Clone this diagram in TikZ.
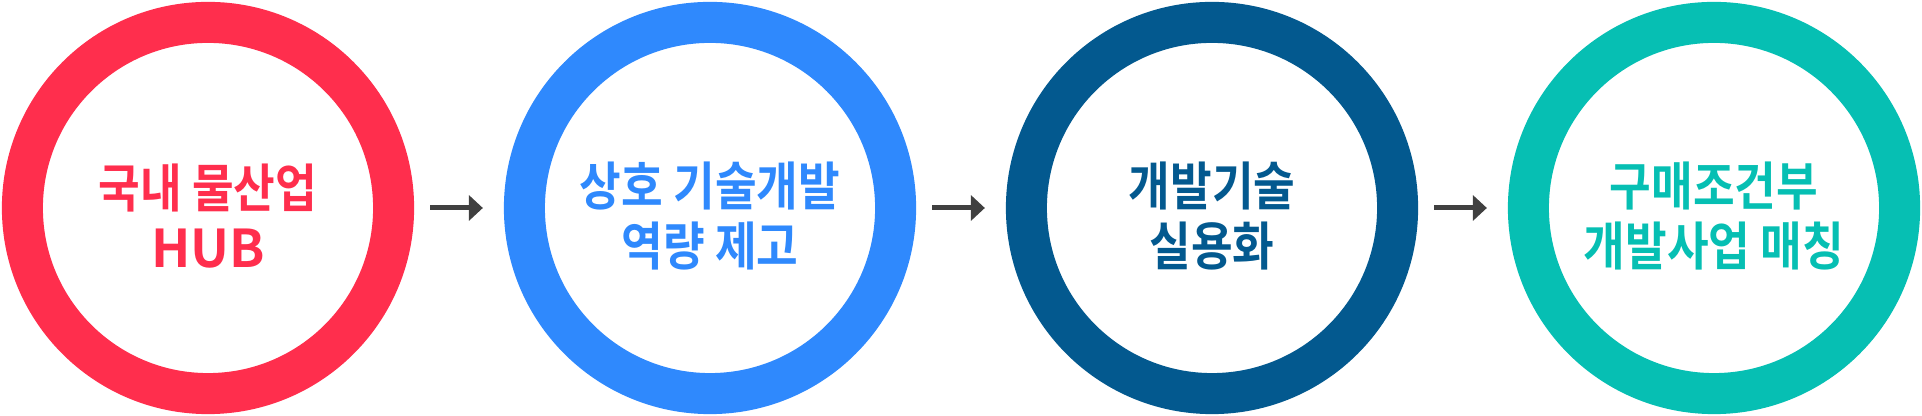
\documentclass[tikz,border=0pt]{standalone}
\usepackage{fontspec}
\setmainfont{Noto Sans CJK KR}[BoldFont={Noto Sans CJK KR Bold}]
\newfontfamily\hangul{Noto Sans CJK KR}[BoldFont={Noto Sans CJK KR Bold}, FakeStretch=0.87]
\usepackage{tikz}
\usetikzlibrary{arrows.meta}

\definecolor{hubred}{HTML}{FF2E4D}
\definecolor{devblue}{HTML}{2F89FD}
\definecolor{usenavy}{HTML}{03598F}
\definecolor{matchteal}{HTML}{06BFB3}
\definecolor{arrgray}{HTML}{404040}

\tikzset{
    ring/.style={circle, draw=#1, line width=0.41cm, minimum size=3.71cm, inner sep=0pt},
    ringtext/.style={text=#1, align=center, inner sep=0pt, yshift=-0.08cm,
        font=\hangul\bfseries\fontsize{14.8}{17}\selectfont},
    flow/.style={-{Triangle[length=0.14cm, width=0.25cm]}, line width=0.05cm, draw=arrgray,
        shorten <=0.16cm, shorten >=0.21cm}
}

\begin{document}
\begin{tikzpicture}[x=0.01cm, y=0.01cm]
    \useasboundingbox (0,0) rectangle (1922,416);

    % 단계 원
    \node[ring=hubred] (hub) at (208,208) {};
    \node[ring=devblue] (dev) at (710,208) {};
    \node[ring=usenavy] (use) at (1212,208) {};
    \node[ring=matchteal] (match) at (1714,208) {};

    % 원 안의 글
    \node[ringtext=hubred] (hubtext) at (hub) {국내 물산업\\{\rmfamily\bfseries HUB}};
    \node[ringtext=devblue] (devtext) at (dev) {상호 기술개발\\역량 제고};
    \node[ringtext=usenavy] (usetext) at (use) {개발기술\\실용화};
    \node[ringtext=matchteal] (matchtext) at (match) {구매조건부\\개발사업 매칭};

    % 화살표
    \draw[flow] (hub) -- (dev);
    \draw[flow] (dev) -- (use);
    \draw[flow] (use) -- (match);
\end{tikzpicture}
\end{document}
